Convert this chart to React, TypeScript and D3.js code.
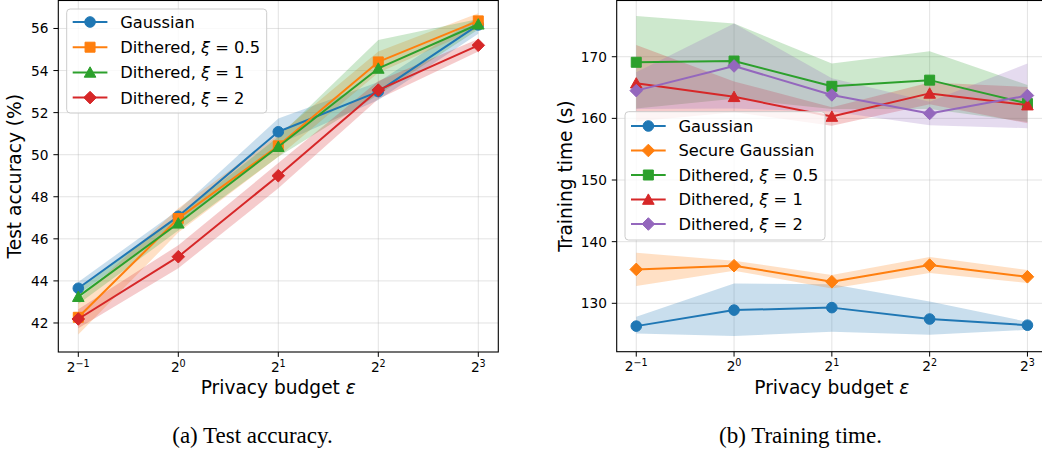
import React from "react";
import * as d3 from "d3";

// ---------- data ----------
const epsValues = [0.5, 1, 2, 4, 8];
const tickExponents = [-1, 0, 1, 2, 3];

const accSeriesNames = ["Gaussian", "Dithered, ξ = 0.5", "Dithered, ξ = 1", "Dithered, ξ = 2"];
const accGaussian = [43.65, 47.07, 51.09, 53.0, 56.17];
const accGaussianLo = [43.35, 46.77, 50.5, 52.6, 55.75];
const accGaussianHi = [43.95, 47.37, 51.72, 53.45, 56.55];
const accD05 = [42.27, 46.97, 50.42, 54.41, 56.36];
const accD05Lo = [41.45, 46.3, 49.9, 53.9, 56.0];
const accD05Hi = [43.1, 47.45, 50.95, 54.9, 56.72];
const accD1 = [43.25, 46.74, 50.38, 54.1, 56.2];
const accD1Lo = [42.9, 46.4, 49.9, 52.85, 55.95];
const accD1Hi = [43.6, 47.1, 50.85, 55.45, 56.45];
const accD2 = [42.19, 45.15, 49.0, 53.07, 55.2];
const accD2Lo = [41.75, 44.6, 48.4, 52.65, 54.9];
const accD2Hi = [42.65, 45.7, 49.6, 53.5, 55.5];
const accYTicks = [42, 44, 46, 48, 50, 52, 54, 56];

const timeSeriesNames = ["Gaussian", "Secure Gaussian", "Dithered, ξ = 0.5", "Dithered, ξ = 1", "Dithered, ξ = 2"];
const timeGaussian = [126.3, 128.9, 129.3, 127.45, 126.45];
const timeGaussianLo = [125.1, 124.7, 125.4, 124.9, 125.7];
const timeGaussianHi = [127.8, 133.2, 133.1, 130.3, 127.0];
const timeSecure = [135.5, 136.1, 133.5, 136.2, 134.3];
const timeSecureLo = [132.8, 135.3, 132.4, 134.9, 133.3];
const timeSecureHi = [138.2, 136.9, 134.6, 137.5, 135.4];
const timeD05 = [169.1, 169.3, 165.2, 166.2, 162.4];
const timeD05Lo = [161.6, 163.2, 161.5, 161.5, 159.4];
const timeD05Hi = [176.6, 175.4, 168.9, 170.9, 165.4];
const timeD1 = [165.7, 163.5, 160.3, 164.05, 162.15];
const timeD1Lo = [159.5, 161.0, 158.8, 162.3, 159.2];
const timeD1Hi = [171.9, 166.0, 161.8, 165.8, 165.1];
const timeD2 = [164.5, 168.5, 163.8, 160.8, 163.7];
const timeD2Lo = [161.5, 161.6, 161.1, 158.9, 158.4];
const timeD2Hi = [167.5, 175.4, 166.5, 162.7, 168.9];
const timeYTicks = [130, 140, 150, 160, 170];

const C = { blue: "#1f77b4", orange: "#ff7f0e", green: "#2ca02c", red: "#d62728", purple: "#9467bd" };

type Marker = "circle" | "square" | "triangle" | "diamond";
interface Series { name: string; mean: number[]; lo: number[]; hi: number[]; color: string; marker: Marker; }

const accSeries: Series[] = [
  { name: accSeriesNames[0], mean: accGaussian, lo: accGaussianLo, hi: accGaussianHi, color: C.blue, marker: "circle" },
  { name: accSeriesNames[1], mean: accD05, lo: accD05Lo, hi: accD05Hi, color: C.orange, marker: "square" },
  { name: accSeriesNames[2], mean: accD1, lo: accD1Lo, hi: accD1Hi, color: C.green, marker: "triangle" },
  { name: accSeriesNames[3], mean: accD2, lo: accD2Lo, hi: accD2Hi, color: C.red, marker: "diamond" },
];
const timeSeries: Series[] = [
  { name: timeSeriesNames[0], mean: timeGaussian, lo: timeGaussianLo, hi: timeGaussianHi, color: C.blue, marker: "circle" },
  { name: timeSeriesNames[1], mean: timeSecure, lo: timeSecureLo, hi: timeSecureHi, color: C.orange, marker: "diamond" },
  { name: timeSeriesNames[2], mean: timeD05, lo: timeD05Lo, hi: timeD05Hi, color: C.green, marker: "square" },
  { name: timeSeriesNames[3], mean: timeD1, lo: timeD1Lo, hi: timeD1Hi, color: C.red, marker: "triangle" },
  { name: timeSeriesNames[4], mean: timeD2, lo: timeD2Lo, hi: timeD2Hi, color: C.purple, marker: "diamond" },
];

const FONT = "DejaVu Sans";
const TXT = "#000";

function markerPath(m: Marker): string {
  switch (m) {
    case "circle": {
      const p = d3.path();
      p.arc(0, 0, 5.3, 0, Math.PI * 2);
      return p.toString();
    }
    case "square":
      return "M-5,-5L5,-5L5,5L-5,5Z";
    case "triangle":
      return "M0,-5.6L5.8,4.8L-5.8,4.8Z";
    case "diamond":
      return "M0,-6.3L6.3,0L0,6.3L-6.3,0Z";
  }
}

function LegendLabel({ name, x, y }: { name: string; x: number; y: number }) {
  const idx = name.indexOf("ξ");
  if (idx < 0) return <text x={x} y={y} fontSize={16.3} fontFamily={FONT} fill={TXT}>{name}</text>;
  return (
    <text x={x} y={y} fontSize={16.3} fontFamily={FONT} fill={TXT} style={{ whiteSpace: "pre" }}>
      <tspan>{name.slice(0, idx)}</tspan>
      <tspan fontStyle="italic">ξ</tspan>
      <tspan>{name.slice(idx + 1)}</tspan>
    </text>
  );
}

interface PanelProps {
  x0: number; x1: number; y0: number; y1: number;
  yDomain: [number, number]; yTicks: number[];
  series: Series[]; yLabel: string; yLabelX: number;
  legend: { x: number; y: number; w: number; h: number; row0: number; rowStep: number };
  caption: string; captionX: number;
}

function Panel(p: PanelProps) {
  const xs = d3.scaleLog().base(2).domain([Math.pow(2, -1.2), Math.pow(2, 3.2)]).range([p.x0, p.x1]);
  const ys = d3.scaleLinear().domain(p.yDomain).range([p.y1, p.y0]);
  const line = d3.line<number>().x((_, i) => xs(epsValues[i])).y((d) => ys(d));
  const tickLen = 4.9;
  const cx = (p.x0 + p.x1) / 2;
  const cy = (p.y0 + p.y1) / 2;
  const L = p.legend;
  return (
    <g>
      {tickExponents.map((e) => (
        <line key={"gx" + e} x1={xs(Math.pow(2, e))} x2={xs(Math.pow(2, e))} y1={p.y0} y2={p.y1} stroke="#b0b0b0" strokeOpacity={0.35} strokeWidth={1} />
      ))}
      {p.yTicks.map((t) => (
        <line key={"gy" + t} x1={p.x0} x2={p.x1} y1={ys(t)} y2={ys(t)} stroke="#b0b0b0" strokeOpacity={0.35} strokeWidth={1} />
      ))}
      {p.series.map((s) => {
        const area = d3.area<number>().x((_, i) => xs(epsValues[i])).y0((_, i) => ys(s.lo[i])).y1((_, i) => ys(s.hi[i]));
        return <path key={"b" + s.name} d={area(s.mean) || ""} fill={s.color} fillOpacity={0.24} stroke="none" />;
      })}
      {p.series.map((s) => (
        <g key={"l" + s.name}>
          <path d={line(s.mean) || ""} fill="none" stroke={s.color} strokeWidth={2} strokeLinejoin="round" />
          {s.mean.map((v, i) => (
            <path key={i} d={markerPath(s.marker)} transform={`translate(${xs(epsValues[i])},${ys(v)})`} fill={s.color} stroke={s.color} strokeWidth={1} />
          ))}
        </g>
      ))}
      <rect x={p.x0} y={p.y0} width={p.x1 - p.x0} height={p.y1 - p.y0} fill="none" stroke="#000" strokeWidth={1.1} />
      {tickExponents.map((e) => {
        const x = xs(Math.pow(2, e));
        return (
          <g key={"xt" + e}>
            <line x1={x} x2={x} y1={p.y1} y2={p.y1 + tickLen} stroke="#000" strokeWidth={1} />
            <text x={x} y={p.y1 + 19.7} textAnchor="middle" fontFamily={FONT} fontSize={13.7} fill={TXT}>
              <tspan>2</tspan>
              <tspan fontSize={9.6} dy={-5}>{e < 0 ? "\u2212" + Math.abs(e) : String(e)}</tspan>
            </text>
          </g>
        );
      })}
      {p.yTicks.map((t) => (
        <g key={"yt" + t}>
          <line x1={p.x0 - tickLen} x2={p.x0} y1={ys(t)} y2={ys(t)} stroke="#000" strokeWidth={1} />
          <text x={p.x0 - tickLen - 4.9} y={ys(t) + 5} textAnchor="end" fontFamily={FONT} fontSize={13.7} fill={TXT}>{t}</text>
        </g>
      ))}
      <text x={cx} y={394.3} textAnchor="middle" fontFamily={FONT} fontSize={18.6} fill={TXT}>
        <tspan>Privacy budget </tspan>
        <tspan fontStyle="italic">ε</tspan>
      </text>
      <text transform={`translate(${p.yLabelX},${cy}) rotate(-90)`} textAnchor="middle" fontFamily={FONT} fontSize={18.6} fill={TXT}>{p.yLabel}</text>
      <rect x={L.x} y={L.y} width={L.w} height={L.h} rx={3.5} fill="#fff" fillOpacity={0.8} stroke="#cccccc" strokeWidth={1} />
      {p.series.map((s, i) => {
        const ry = L.row0 + i * L.rowStep;
        const lx0 = L.x + 6;
        const lx1 = lx0 + 34.7;
        return (
          <g key={"lg" + s.name}>
            <line x1={lx0} x2={lx1} y1={ry} y2={ry} stroke={s.color} strokeWidth={2} />
            <path d={markerPath(s.marker)} transform={`translate(${(lx0 + lx1) / 2},${ry})`} fill={s.color} stroke={s.color} strokeWidth={1} />
            <LegendLabel name={s.name} x={L.x + 53.5} y={ry + 5.9} />
          </g>
        );
      })}
      <text x={p.captionX} y={443} textAnchor="middle" fontFamily="Liberation Serif" fontSize={23} fill="#000">{p.caption}</text>
    </g>
  );
}

export default function App() {
  return (
    <svg width={1042} height={450} style={{ position: "absolute", left: 0, top: 0, background: "#fff" }}>
      <rect x={0} y={0} width={1042} height={450} fill="#fff" />
      <Panel
        x0={58.3} x1={498.3} y0={0.5} y1={352}
        yDomain={[40.62, 57.33]} yTicks={accYTicks}
        series={accSeries} yLabel="Test accuracy (%)" yLabelX={21}
        legend={{ x: 66.7, y: 9, w: 200, h: 104, row0: 22, rowStep: 25.2 }}
        caption="(a) Test accuracy." captionX={252.5}
      />
      <Panel
        x0={616.7} x1={1047} y0={0.5} y1={351.7}
        yDomain={[122.15, 179.12]} yTicks={timeYTicks}
        series={timeSeries} yLabel="Training time (s)" yLabelX={572}
        legend={{ x: 625, y: 111.7, w: 200, h: 128.3, row0: 126, rowStep: 24.5 }}
        caption="(b) Training time." captionX={800.5}
      />
    </svg>
  );
}
